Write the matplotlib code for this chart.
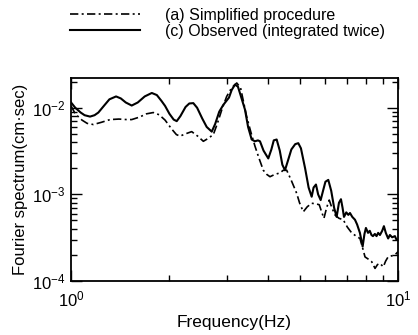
import matplotlib.pyplot as plt
from matplotlib.ticker import LogLocator, NullFormatter

plt.rcParams['font.family'] = ['Liberation Sans', 'DejaVu Sans']
plt.rcParams['mathtext.fontset'] = 'custom'
plt.rcParams['mathtext.rm'] = 'Liberation Sans'
plt.rcParams['mathtext.it'] = 'Liberation Sans:italic'

# (c) observed record, integrated twice
freq_obs = [1.0, 1.03, 1.07, 1.10, 1.143, 1.18, 1.212, 1.26, 1.31, 1.373,
            1.42, 1.47, 1.533, 1.60, 1.68, 1.766, 1.83, 1.89, 1.939, 2.0,
            2.06, 2.105, 2.16, 2.24, 2.30, 2.366, 2.43, 2.52, 2.60, 2.694,
            2.76, 2.84, 2.923, 3.042, 3.10, 3.173, 3.24, 3.30, 3.405, 3.48,
            3.569, 3.65, 3.73, 3.784, 3.88, 4.012, 4.10, 4.17, 4.256, 4.35,
            4.43, 4.512, 4.60, 4.72, 4.85, 4.956, 5.05, 5.20, 5.33, 5.446,
            5.52, 5.613, 5.70, 5.802, 5.90, 6.00, 6.122, 6.25, 6.38, 6.494,
            6.60, 6.694, 6.77, 6.838, 6.95, 7.05, 7.133, 7.25, 7.389, 7.50,
            7.65, 7.798, 7.90, 7.981, 8.10, 8.20, 8.30, 8.385, 8.50, 8.60,
            8.70, 8.81, 8.95, 9.059, 9.18, 9.334, 9.45, 9.60, 9.79, 9.90, 10.0]
spec_obs = [0.0115, 0.0100, 0.0088, 0.0082, 0.0079, 0.0082, 0.0088, 0.0105, 0.0125, 0.0135,
            0.0128, 0.0115, 0.0106, 0.0115, 0.0135, 0.0148, 0.0140, 0.0120, 0.0105, 0.0085,
            0.0073, 0.0070, 0.0080, 0.0102, 0.0112, 0.0113, 0.0100, 0.0075, 0.0060, 0.0053,
            0.0065, 0.0090, 0.0108, 0.0131, 0.0160, 0.0185, 0.0175, 0.0140, 0.0095, 0.0060,
            0.0043, 0.0041, 0.0042, 0.0041, 0.0032, 0.0026, 0.0033, 0.0042, 0.0043, 0.0032,
            0.0022, 0.0019, 0.0024, 0.0033, 0.0038, 0.0039, 0.0034, 0.0020, 0.0012, 0.00094,
            0.0012, 0.0013, 0.0010, 0.00086, 0.0011, 0.0014, 0.00147, 0.0011, 0.0007, 0.00055,
            0.0008, 0.00088, 0.0007, 0.00055, 0.00062, 0.00058, 0.00061, 0.00055, 0.00051, 0.00045,
            0.00036, 0.00025, 0.00035, 0.00041, 0.00036, 0.00038, 0.00034, 0.00033, 0.00035, 0.00033,
            0.00036, 0.00034, 0.00038, 0.00043, 0.00036, 0.00031, 0.00034, 0.00032, 0.00033, 0.00030, 0.00030]

# (a) simplified procedure
freq_simp = [1.0, 1.03, 1.08, 1.12, 1.170, 1.24, 1.316, 1.40, 1.48, 1.533,
             1.62, 1.70, 1.785, 1.86, 1.939, 2.03, 2.10, 2.154, 2.24, 2.339,
             2.44, 2.539, 2.62, 2.724, 2.80, 2.90, 2.993, 3.10, 3.213, 3.30,
             3.445, 3.55, 3.653, 3.76, 3.874, 3.97, 4.061, 4.20, 4.356, 4.46,
             4.567, 4.70, 4.90, 5.00, 5.134, 5.28, 5.446, 5.60, 5.745, 5.84,
             5.938, 6.05, 6.164, 6.28, 6.417, 6.60, 6.802, 7.00, 7.218, 7.45,
             7.653, 7.80, 7.93, 8.10, 8.314, 8.51, 8.66, 8.81, 9.02, 9.17,
             9.33, 9.55, 9.79, 10.0]
spec_simp = [0.0105, 0.0085, 0.0072, 0.0066, 0.0064, 0.0068, 0.0073, 0.0074, 0.0073, 0.0073,
             0.0078, 0.0085, 0.0088, 0.0083, 0.0072, 0.0057, 0.0049, 0.0047, 0.0050, 0.0053,
             0.0047, 0.0041, 0.0044, 0.0049, 0.0065, 0.0098, 0.0135, 0.0170, 0.0193, 0.0170,
             0.0079, 0.0052, 0.0036, 0.0026, 0.0019, 0.0017, 0.0016, 0.0017, 0.00177, 0.0019,
             0.0019, 0.0015, 0.00103, 0.0008, 0.00063, 0.00072, 0.00079, 0.00078, 0.00076, 0.00063,
             0.00053, 0.0007, 0.00086, 0.0007, 0.00058, 0.00053, 0.00051, 0.00042, 0.00036, 0.00033,
             0.00031, 0.00024, 0.00019, 0.00018, 0.000167, 0.00014, 0.000155, 0.00016, 0.000146, 0.00017,
             0.00019, 0.000195, 0.0002, 0.000218]

fig = plt.figure(figsize=(4.18, 3.35), dpi=100)
ax = fig.add_axes([0.170, 0.161, 0.782, 0.606])

ax.plot(freq_simp, spec_simp, color='black', lw=1.2,
        linestyle=(0, (5, 2, 1.2, 2)), label='(a) Simplified procedure')
ax.plot(freq_obs, spec_obs, color='black', lw=1.5,
        label='(c) Observed (integrated twice)')

ax.set_xscale('log')
ax.set_yscale('log')
ax.set_xlim(1, 10)
ax.set_ylim(1e-4, 2.2e-2)

ax.xaxis.set_minor_locator(LogLocator(base=10, subs=range(2, 10)))
ax.yaxis.set_minor_locator(LogLocator(base=10, subs=range(2, 10)))
ax.xaxis.set_minor_formatter(NullFormatter())
ax.yaxis.set_minor_formatter(NullFormatter())
ax.tick_params(which='both', direction='in', top=True, right=True,
               labelsize=12, width=1.0)
ax.tick_params(which='major', length=8)
ax.tick_params(which='minor', length=4)
ax.tick_params(axis='x', which='major', pad=6)
ax.tick_params(axis='y', which='major', pad=4)
for s in ax.spines.values():
    s.set_linewidth(1.3)

ax.set_xlabel('Frequency(Hz)', fontsize=12.5, labelpad=4)
ax.set_ylabel('Fourier spectrum(cm\u00b7sec)', fontsize=12, labelpad=3)

fig.legend(loc='upper left', bbox_to_anchor=(0.141, 1.01), frameon=False,
           fontsize=11.5, handlelength=4.4, handletextpad=1.55, labelspacing=0.05,
           borderpad=0.2)

fig.savefig('out.png', dpi=100)
